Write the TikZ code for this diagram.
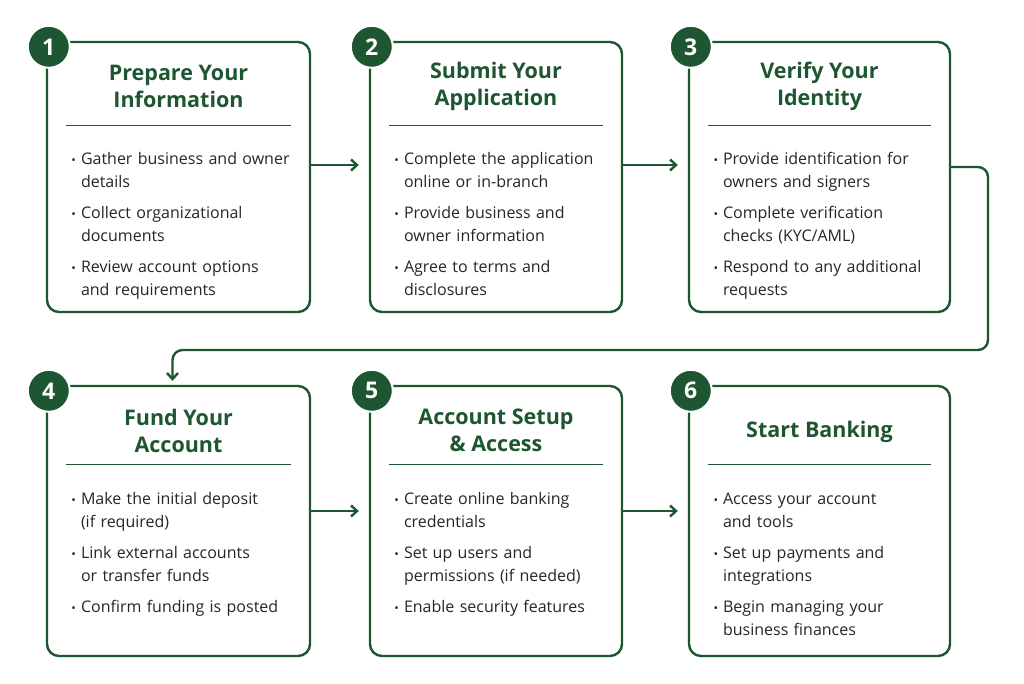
\documentclass[tikz,border=0pt]{standalone}
\usepackage{fontspec}
\setmainfont{Open Sans}
\usepackage{enumitem}
\usetikzlibrary{positioning, arrows.meta}
\definecolor{bankgreen}{HTML}{1E5631}
\setlist[itemize]{leftmargin=15pt, itemsep=8pt, parsep=0pt, topsep=0pt, label={\large\textbullet}}

\tikzset{
  step box/.style={draw=bankgreen, line width=2.4pt, rounded corners=12pt, fill=white, minimum width=263pt, minimum height=270pt},
  badge/.style={circle, fill=bankgreen, draw=white, line width=2pt, minimum size=42pt, inner sep=0pt, text=white, font=\fontsize{23}{23}\selectfont\bfseries},
  step title/.style={text=bankgreen, align=center, font=\fontsize{21.5}{27}\selectfont\bfseries},
  step list/.style={text width=235pt, align=left, inner sep=0pt, anchor=north west, text=black!85, font=\fontsize{16}{23}\selectfont},
  flow/.style={draw=bankgreen, line width=2.4pt, -{Straight Barb[length=6pt, width=11pt]}},
}

% one step: name, centre, width, number, title, title y, rule y, list
\newcommand{\bankstep}[8]{
  \node [step box, minimum width=#3] (#1) at #2 {};
  \node [badge] (#1-num) at ([xshift=3pt, yshift=-6pt]#1.north west) {#4};
  \node [step title] (#1-title) at ([yshift=#6]#1.north) {#5};
  \draw [bankgreen, line width=1pt] ([xshift=20pt, yshift=#7]#1.north west) -- ([xshift=-20pt, yshift=#7]#1.north east);
  \node [step list] (#1-list) at ([xshift=20pt, yshift=#7-16pt]#1.north west) {\begin{itemize}#8\end{itemize}};
}

\begin{document}
\begin{tikzpicture}[x=1pt, y=-1pt]

  \useasboundingbox [fill=white] (0,0) rectangle (1024,684);

  % top row
  \bankstep{prepare}{(178.5,177)}{263pt}{1}{Prepare Your\\Information}{-46pt}{-85pt}
    {\item Gather business and owner\\details \item Collect organizational\\documents \item Review account options\\and requirements}
  \bankstep{submit}{(496,177)}{252pt}{2}{Submit Your\\Application}{-46pt}{-85pt}
    {\item Complete the application\\online or in-branch \item Provide business and\\owner information \item Agree to terms and\\disclosures}
  \bankstep{verify}{(819.5,177)}{261pt}{3}{Verify Your\\Identity}{-46pt}{-85pt}
    {\item Provide identification for\\owners and signers \item Complete verification\\checks (KYC/AML) \item Respond to any additional\\requests}

  % bottom row
  \bankstep{fund}{(178.5,521)}{263pt}{4}{Fund Your\\Account}{-46pt}{-80pt}
    {\item Make the initial deposit\\(if required) \item Link external accounts\\or transfer funds \item Confirm funding is posted}
  \bankstep{setup}{(496,521)}{252pt}{5}{Account Setup\\\& Access}{-46pt}{-80pt}
    {\item Create online banking\\credentials \item Set up users and\\permissions (if needed) \item Enable security features}
  \bankstep{start}{(819.5,521)}{261pt}{6}{Start Banking}{-47pt}{-80pt}
    {\item Access your account\\and tools \item Set up payments and\\integrations \item Begin managing your\\business finances}

  % connectors
  \draw [flow, shorten >=10pt] ([yshift=12pt]prepare.east) -- ([yshift=12pt]submit.west);
  \draw [flow, shorten >=10pt] ([yshift=12pt]submit.east) -- ([yshift=12pt]verify.west);
  \coordinate (turn) at (988,350);
  \draw [flow, rounded corners=10pt, shorten >=4pt] ([yshift=10pt]verify.east) -| (turn) -| ([xshift=-6pt]fund.north);
  \draw [flow, shorten >=10pt] ([yshift=10pt]fund.east) -- ([yshift=10pt]setup.west);
  \draw [flow, shorten >=10pt] ([yshift=10pt]setup.east) -- ([yshift=10pt]start.west);

\end{tikzpicture}
\end{document}
